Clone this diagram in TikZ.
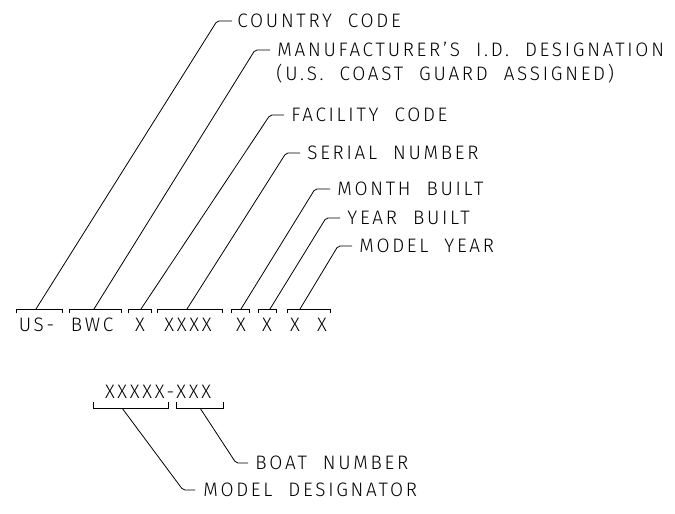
\documentclass[tikz,border=0pt]{standalone}
\usepackage{fontspec}
\IfFontExistsTF{Fira Sans Light}
  {\setmainfont{Fira Sans Light}[FakeStretch=0.97, LetterSpace=14, WordSpace=2]}
  {\setmainfont{Liberation Sans}[FakeStretch=0.85, LetterSpace=13.2, WordSpace=2.2]}
\begin{document}
\begin{tikzpicture}[x=1pt,y=-1pt,line width=0.8pt,
  lbl/.style={anchor=west,inner sep=0pt,font=\fontsize{19.5}{19.5}\selectfont,text height=13.5pt,text depth=0pt},
  tok/.style={anchor=center,inner sep=0pt,font=\fontsize{19.5}{19.5}\selectfont,text height=13.5pt,text depth=0pt},
  lead/.style={rounded corners=2pt},
  brk/.style={line cap=butt}]
\useasboundingbox (0,0) rectangle (675,514);

% ---- labels (top group)
\node[lbl] (country) at (237,21) {COUNTRY CODE};
\node[lbl] (manuf)   at (277,50) {MANUFACTURER'S I.D. DESIGNATION};
\node[lbl] (uscg)    at (276,74) {(U.S. COAST GUARD ASSIGNED)};
\node[lbl] (facil)   at (291,115) {FACILITY CODE};
\node[lbl] (serial)  at (307,153) {SERIAL NUMBER};
\node[lbl] (month)   at (337,189) {MONTH BUILT};
\node[lbl] (year)    at (347,218) {YEAR BUILT};
\node[lbl] (myear)   at (359,246) {MODEL YEAR};

% ---- code tokens
\node[tok] (us)   at (36.5,325) {US-};
\node[tok] (bwc)  at (92,325)   {BWC};
\node[tok] (x1)   at (140,325)  {X};
\node[tok] (x4)   at (188,325)  {XXXX};
\node[tok] (xm)   at (241,325)  {X};
\node[tok] (xy)   at (267,325)  {X};
\node[tok] (xa)   at (295,325)  {X};
\node[tok] (xb)   at (322,325)  {X};

% ---- brackets (top row)
\foreach \a/\b in {16/62,69/121,128/151,157/222,231/249,258/276,287/330}
  \draw[brk] (\a,313) -- (\a,309) -- (\b,309) -- (\b,313);

% attach points and elbows
\coordinate (aCountry) at (36,309);  \coordinate (eCountry) at (217,21);
\coordinate (aManuf)   at (94,309);  \coordinate (eManuf)   at (255,50);
\coordinate (aFacil)   at (141,309); \coordinate (eFacil)   at (270,115);
\coordinate (aSerial)  at (187,309); \coordinate (eSerial)  at (286,153);
\coordinate (aMonth)   at (241,309); \coordinate (eMonth)   at (315,189);
\coordinate (aYear)    at (270,309); \coordinate (eYear)    at (326,218);
\coordinate (aMyear)   at (300,309); \coordinate (eMyear)   at (338,246);

\draw[lead] (aCountry) -- (eCountry) -- ([xshift=-5pt]country.west);
\draw[lead] (aManuf)   -- (eManuf)   -- ([xshift=-7pt]manuf.west);
\draw[lead] (aFacil)   -- (eFacil)   -- ([xshift=-7pt]facil.west);
\draw[lead] (aSerial)  -- (eSerial)  -- ([xshift=-7pt]serial.west);
\draw[lead] (aMonth)   -- (eMonth)   -- ([xshift=-7pt]month.west);
\draw[lead] (aYear)    -- (eYear)    -- ([xshift=-7pt]year.west);
\draw[lead] (aMyear)   -- (eMyear)   -- ([xshift=-7pt]myear.west);

% ---- bottom group
\node[tok] (model) at (158,392) {XXXXX-XXX};
\foreach \a/\b in {93/168,176/223}
  \draw[brk] (\a,402) -- (\a,408) -- (\b,408) -- (\b,402);

\node[lbl] (boat)  at (255,463) {BOAT NUMBER};
\node[lbl] (desig) at (203,490) {MODEL DESIGNATOR};
\coordinate (aBoat)  at (200,408); \coordinate (eBoat)  at (236,463);
\coordinate (aDesig) at (122,408); \coordinate (eDesig) at (183,490);
\draw[lead] (aBoat)  -- (eBoat)  -- ([xshift=-7pt]boat.west);
\draw[lead] (aDesig) -- (eDesig) -- ([xshift=-8pt]desig.west);
\end{tikzpicture}
\end{document}
